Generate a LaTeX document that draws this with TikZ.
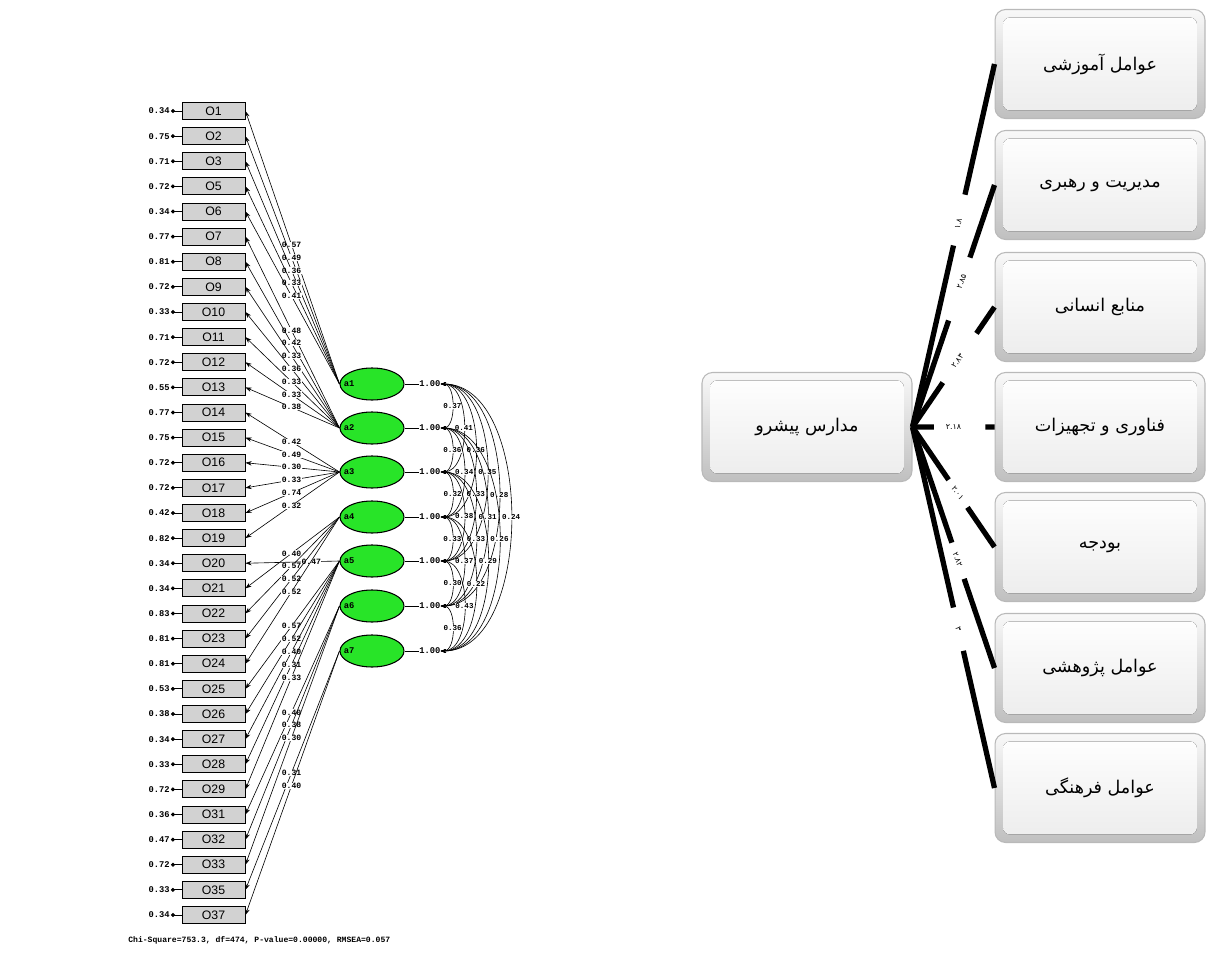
\documentclass[tikz,border=0pt]{standalone}
\usepackage{fontspec}
\usetikzlibrary{arrows.meta,calc,shapes.geometric}
\TeXXeTstate=1
\newfontfamily\fa[Script=Arabic]{DejaVu Sans}
\newfontfamily\lis{Liberation Mono}
\newfontfamily\lsans{Liberation Sans}
\definecolor{lgreen}{RGB}{40,228,40}
\begin{document}
\begin{tikzpicture}[x=0.02cm,y=-0.02cm,
  obox/.style={draw=black, line width=0.5pt, fill=gray!35, minimum width=1.26cm, minimum height=0.34cm, inner sep=0pt, font=\lsans\fontsize{7}{7}\selectfont},
  errlab/.style={font=\lis\bfseries\fontsize{5}{5}\selectfont, inner sep=0.5pt, anchor=east},
  ldlab/.style={font=\lis\bfseries\fontsize{4.6}{5}\selectfont, inner sep=0.2pt, fill=white},
  covlab/.style={font=\lis\bfseries\fontsize{4.3}{5}\selectfont, inner sep=0.2pt, fill=white},
  lat/.style={ellipse, draw=black, line width=0.6pt, fill=lgreen, minimum width=1.28cm, minimum height=0.64cm, inner sep=0pt},
  latlab/.style={font=\lis\bfseries\fontsize{5}{5}\selectfont, inner sep=0pt},
  load/.style={-{Stealth[length=3.5pt,width=2.5pt]}, line width=0.35pt},
  cov/.style={{Stealth[length=3pt,width=2.2pt]}-{Stealth[length=3pt,width=2.2pt]}, line width=0.35pt},
  gbox/.style={rounded corners=6pt, minimum width=4.2cm, minimum height=2.18cm, draw=gray!55, line width=0.6pt,
    top color=gray!5, bottom color=gray!50, font=\fa\fontsize{10}{12}\selectfont,
    path picture={\fill[rounded corners=4pt, top color=white, bottom color=gray!15]
      ([shift={(8,8)}]path picture bounding box.north west) rectangle
      ([shift={(-8,-8)}]path picture bounding box.south east);}},
  conn/.style={line width=3pt, black},
  rlab/.style={font=\fa\fontsize{4.5}{5}\selectfont, inner sep=0pt}
]
\path[use as bounding box, fill=white] (0,0) rectangle (1208,960);

% ---------- left: path diagram ----------
\foreach \lab/\err [count=\i from 0] in {O1/0.34,O2/0.75,O3/0.71,O5/0.72,O6/0.34,O7/0.77,O8/0.81,O9/0.72,O10/0.33,O11/0.71,O12/0.72,O13/0.55,O14/0.77,O15/0.75,O16/0.72,O17/0.72,O18/0.42,O19/0.82,O20/0.34,O21/0.34,O22/0.83,O23/0.81,O24/0.81,O25/0.53,O26/0.38,O27/0.34,O28/0.33,O29/0.72,O31/0.36,O32/0.47,O33/0.72,O35/0.33,O37/0.34}{
  \node[obox] (o\i) at (213.5,111+25.125*\i) {\lab};
  \node[errlab] (e\i) at (171,111+25.125*\i) {\err};
  \draw[{Circle[length=2.2pt]}-, line width=0.5pt] (e\i.east) -- (o\i.west);
}

\foreach \k/\yy in {1/384,2/428,3/472,4/517,5/561,6/606,7/651}{
  \node[lat] (a\k) at (372,\yy) {};
  \node[latlab, anchor=west] (la\k) at ($(a\k.west)+(4,0)$) {a\k};
  \node[latlab, anchor=west] (v\k) at (419,\yy) {1.00};
  \draw[line width=0.4pt] (a\k.east) -- (v\k.west);
}

\foreach \f/\r/\v/\q in {1/0/0.57/0.51,1/1/0.49/0.51,1/2/0.36/0.51,1/3/0.33/0.51,1/4/0.41/0.51,
  2/5/0.48/0.51,2/6/0.42/0.51,2/7/0.33/0.51,2/8/0.36/0.51,2/9/0.33/0.51,2/10/0.33/0.51,2/11/0.38/0.51,
  3/12/0.42/0.51,3/13/0.49/0.51,3/14/0.30/0.51,3/15/0.33/0.51,3/16/0.74/0.51,3/17/0.32/0.51,
  5/18/0.47/0.30,4/19/0.40/0.51,4/20/0.57/0.51,4/21/0.52/0.51,4/22/0.52/0.51,
  5/23/0.57/0.51,5/24/0.52/0.51,5/25/0.40/0.51,5/26/0.31/0.51,5/27/0.33/0.51,
  6/28/0.40/0.51,6/29/0.38/0.51,6/30/0.30/0.51,
  7/31/0.31/0.51,7/32/0.40/0.51}{
  \draw[load] (a\f.west) -- node[ldlab, pos=\q] {\v} (o\r.east);
}

\foreach \i/\j/\v in {1/2/0.37,1/3/0.41,1/4/0.36,1/5/0.35,1/6/0.28,1/7/0.24,
  2/3/0.36,2/4/0.34,2/5/0.33,2/6/0.31,2/7/0.26,
  3/4/0.32,3/5/0.38,3/6/0.33,3/7/0.29,
  4/5/0.33,4/6/0.37,4/7/0.22,
  5/6/0.30,5/7/0.43,
  6/7/0.36}{
  \draw[cov] (v\i.east) to[out=0,in=0,looseness=0.9] node[covlab, pos=0.5] {\v} (v\j.east);
}

\node[font=\lis\bfseries\fontsize{4.6}{5}\selectfont, anchor=west, inner sep=0pt] (chi) at (128,940) {Chi-Square=753.3, df=474, P-value=0.00000, RMSEA=0.057};

% ---------- right: hierarchy ----------
\node[gbox] (c) at (807,427) {\beginR مدارس پیشرو\endR};
\node[gbox] (b1) at (1100,64) {\beginR عوامل آموزشی\endR};
\node[gbox] (b2) at (1100,185) {\beginR مدیریت و رهبری\endR};
\node[gbox] (b3) at (1100,307) {\beginR منابع انسانی\endR};
\node[gbox] (b4) at (1100,427) {\beginR فناوری و تجهیزات\endR};
\node[gbox] (b5) at (1100,547) {\beginR بودجه\endR};
\node[gbox] (b6) at (1100,668) {\beginR عوامل پژوهشی\endR};
\node[gbox] (b7) at (1100,788) {\beginR عوامل فرهنگی\endR};

\foreach \i/\a/\b/\p/\r/\t in {1/0.50/0.64/0.56/76.5/۱.۸,2/0.44/0.70/0.60/70.2/۲.۸۵,3/0.37/0.78/0.55/54.1/۲.۸۳,4/0.26/0.89/0.50/0/۲.۱۸,5/0.44/0.67/0.55/-54.1/۲.۰۱,6/0.48/0.63/0.55/-70.1/۲.۸۲,7/0.50/0.62/0.56/-76.4/۳}{
  \draw[conn] (c.east) -- ($(c.east)!\a!(b\i.west)$);
  \draw[conn] ($(c.east)!\b!(b\i.west)$) -- (b\i.west);
  \node[rlab, rotate=\r] (r\i) at ($(c.east)!\p!(b\i.west)$) {\t};
}
\end{tikzpicture}
\end{document}
